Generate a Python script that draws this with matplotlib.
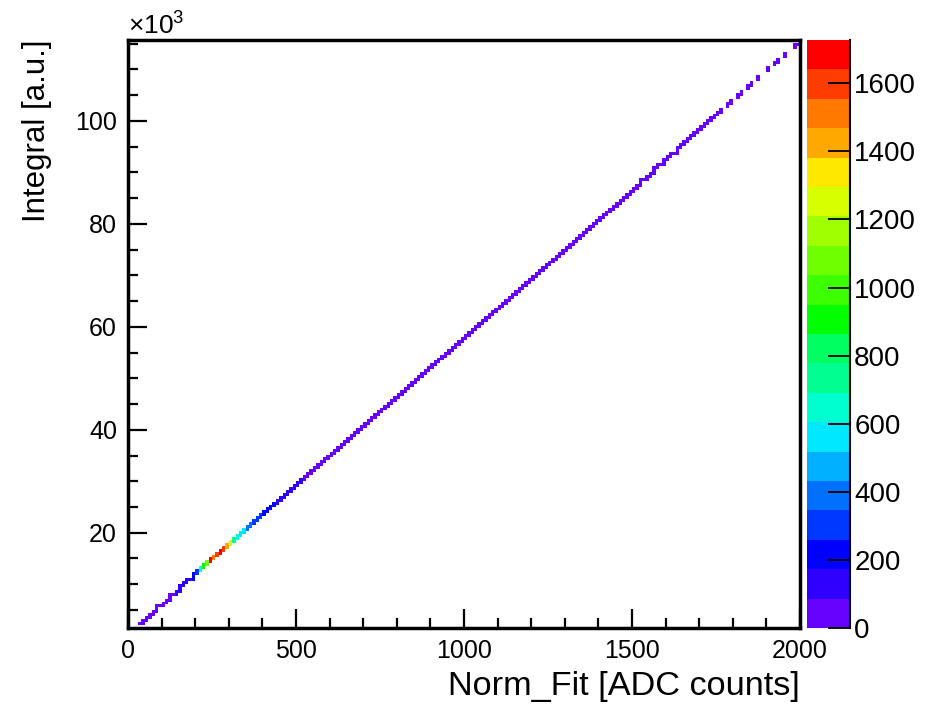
import numpy as np
import matplotlib
matplotlib.use("Agg")
import matplotlib.pyplot as plt
from matplotlib.colors import ListedColormap, BoundaryNorm
from matplotlib.ticker import MultipleLocator, FuncFormatter

plt.rcParams['font.family'] = ['Liberation Sans', 'DejaVu Sans']
plt.rcParams['mathtext.default'] = 'regular'

# ---------------- data ----------------
# Norm_Fit bin centres [ADC counts] (10 ADC wide bins, 30..2000)
norm_fit_bins = np.arange(35, 2000, 10)

# Integral [x10^3 a.u.] along the diagonal for each Norm_Fit bin
integral_k = [
    2.3, 2.9, 3.5, 4.0, 4.6, 5.2, 5.8, 6.3, 6.9, 7.5,
    8.1, 8.6, 9.2, 9.8, 10.4, 10.9, 11.5, 12.1, 12.7, 13.2,
    13.8, 14.4, 15.0, 15.5, 16.1, 16.7, 17.3, 17.8, 18.4, 19.0,
    19.6, 20.1, 20.7, 21.3, 21.9, 22.4, 23.0, 23.6, 24.2, 24.7,
    25.3, 25.9, 26.5, 27.0, 27.6, 28.2, 28.8, 29.3, 29.9, 30.5,
    31.1, 31.6, 32.2, 32.8, 33.4, 33.9, 34.5, 35.1, 35.7, 36.2,
    36.8, 37.4, 38.0, 38.5, 39.1, 39.7, 40.3, 40.8, 41.4, 42.0,
    42.6, 43.1, 43.7, 44.3, 44.9, 45.4, 46.0, 46.6, 47.2, 47.7,
    48.3, 48.9, 49.5, 50.0, 50.6, 51.2, 51.8, 52.3, 52.9, 53.5,
    54.1, 54.6, 55.2, 55.8, 56.4, 56.9, 57.5, 58.1, 58.7, 59.2,
    59.8, 60.4, 61.0, 61.5, 62.1, 62.7, 63.3, 63.8, 64.4, 65.0,
    65.6, 66.1, 66.7, 67.3, 67.9, 68.4, 69.0, 69.6, 70.2, 70.7,
    71.3, 71.9, 72.5, 73.0, 73.6, 74.2, 74.8, 75.3, 75.9, 76.5,
    77.1, 77.6, 78.2, 78.8, 79.4, 79.9, 80.5, 81.1, 81.7, 82.2,
    82.8, 83.4, 84.0, 84.5, 85.1, 85.7, 86.3, 86.8, 87.4, 88.0,
    88.6, 89.1, 89.7, 90.3, 90.9, 91.4, 92.0, 92.6, 93.2, 93.7,
    94.3, 94.9, 95.5, 96.0, 96.6, 97.2, 97.8, 98.3, 98.9, 99.5,
    100.1, 100.6, 101.2, 101.8, 102.4, 102.9, 103.5, 104.1, 104.7, 105.2,
    105.8, 106.4, 107.0, 107.5, 108.1, 108.7, 109.3, 109.8, 110.4, 111.0,
    111.6, 112.1, 112.7, 113.3, 113.9, 114.4, 115.0,
]

# Entries per cell along the diagonal
counts = [
    20, 35, 45, 50, 55, 60, 65, 70, 75, 80,
    85, 90, 95, 105, 130, 160, 200, 330, 640, 900,
    1080, 1650, 1480, 1560, 1720, 1640, 1450, 1220, 700, 620,
    600, 540, 420, 380, 330, 300, 270, 240, 220, 200,
    185, 170, 155, 140, 125, 115, 105, 95, 88, 82,
    78, 76, 74, 72, 70, 68, 67, 66, 64, 63,
    62, 61, 60, 59, 58, 57, 56, 55, 54, 53,
    52, 51, 50, 50, 49, 48, 47, 46, 46, 45,
    44, 43, 43, 42, 41, 40, 40, 39, 38, 38,
    37, 36, 36, 35, 34, 34, 33, 33, 32, 31,
    31, 30, 30, 29, 29, 28, 28, 27, 27, 26,
    26, 25, 25, 24, 24, 23, 23, 22, 22, 21,
    21, 20, 20, 19, 19, 18, 18, 17, 17, 16,
    16, 15, 15, 14, 14, 13, 13, 12, 12, 11,
    11, 10, 10, 9, 9, 9, 8, 8, 8, 7,
    7, 7, 6, 6, 6, 5, 5, 5, 4, 4,
    4, 4, 3, 3, 3, 3, 2, 2, 2, 2,
    2, 1, 2, 1, 0, 1, 1, 0, 1, 1,
    0, 1, 1, 0, 1, 0, 0, 1, 0, 1,
    1, 0, 1, 0, 0, 1, 1,
]

x_range = (0, 2000)
y_range = (1500, 115700)
z_max = 1727
colorbar_ticks = [0, 200, 400, 600, 800, 1000, 1200, 1400, 1600]

palette = ['#6600ff', '#3000ff', '#0000ff', '#0038ff', '#0070ff',
           '#00b0ff', '#00e8ff', '#00ffd0', '#00ff90', '#00ff60',
           '#00ff00', '#3cff00', '#70ff00', '#a0ff00', '#d8ff00',
           '#ffe800', '#ffa800', '#ff7800', '#ff3c00', '#ff0000']

# ---------------- histogram ----------------
nbx, nby = 200, 200
x_edges = np.linspace(x_range[0], x_range[1], nbx + 1)
y_edges = np.linspace(y_range[0], y_range[1], nby + 1)
dy = y_edges[1] - y_edges[0]
yv = np.array(integral_k) * 1000.0
hist = np.zeros((nbx, nby))
for i, (xc, c) in enumerate(zip(norm_fit_bins, counts)):
    if c <= 0:
        continue
    lo = 0.5 * (yv[i - 1] + yv[i]) if i > 0 else yv[i]
    hi = 0.5 * (yv[i] + yv[i + 1]) if i < len(yv) - 1 else yv[i]
    ix = np.searchsorted(x_edges, xc) - 1
    j0 = int(np.floor((lo - y_range[0]) / dy))
    j1 = int(np.floor((hi - y_range[0]) / dy))
    j0, j1 = max(j0, 0), min(j1, nby - 1)
    hist[ix, j0:j1 + 1] = c
hist = np.ma.masked_where(hist <= 0, hist)

# ---------------- figure ----------------
W, H = 926, 706
fig = plt.figure(figsize=(W / 100, H / 100), dpi=100)
L, R, T, B = 128, 800, 40, 628
ax = fig.add_axes([L / W, 1 - B / H, (R - L) / W, (B - T) / H])
cax = fig.add_axes([807 / W, 1 - B / H, 43 / W, (B - T) / H])

cmap = ListedColormap(palette)
levels = np.linspace(0, z_max, len(palette) + 1)
norm = BoundaryNorm(levels, cmap.N)
mesh = ax.pcolormesh(x_edges, y_edges, hist.T, cmap=cmap, norm=norm)

ax.set_xlim(*x_range)
ax.set_ylim(*y_range)

for s in ax.spines.values():
    s.set_linewidth(2.5)

ax.xaxis.set_major_locator(MultipleLocator(500))
ax.xaxis.set_minor_locator(MultipleLocator(100))
ax.yaxis.set_major_locator(MultipleLocator(20000))
ax.yaxis.set_minor_locator(MultipleLocator(5000))
ax.yaxis.set_major_formatter(FuncFormatter(lambda v, p: f"{v / 1000:.0f}"))
ax.tick_params(axis='both', which='major', direction='in', length=14,
               width=1.6, labelsize=18, pad=8)
ax.tick_params(axis='both', which='minor', direction='in', length=7, width=1.6)
ax.tick_params(axis='x', which='major', pad=8)

ax.text(0.0, 1.0, r'$\times10^{3}$', transform=ax.transAxes,
        fontsize=19, ha='left', va='bottom')

fig.text(800 / W, 1 - 671 / H, 'Norm_Fit [ADC counts]', fontsize=24.7,
         ha='right', va='top')
fig.text(22 / W, 1 - 40 / H, 'Integral [a.u.]', fontsize=22.5,
         rotation=90, ha='left', va='top')

cb = fig.colorbar(mesh, cax=cax, ticks=colorbar_ticks)
cb.outline.set_visible(False)
cax.plot([1, 1], [0, 1], transform=cax.transAxes, color='black', lw=1.5,
         clip_on=False)
cax.tick_params(axis='y', direction='in', length=16, width=1.3,
                labelsize=20, pad=3)
cax.yaxis.set_tick_params(which='minor', length=0)

fig.savefig('out.png', dpi=100)
